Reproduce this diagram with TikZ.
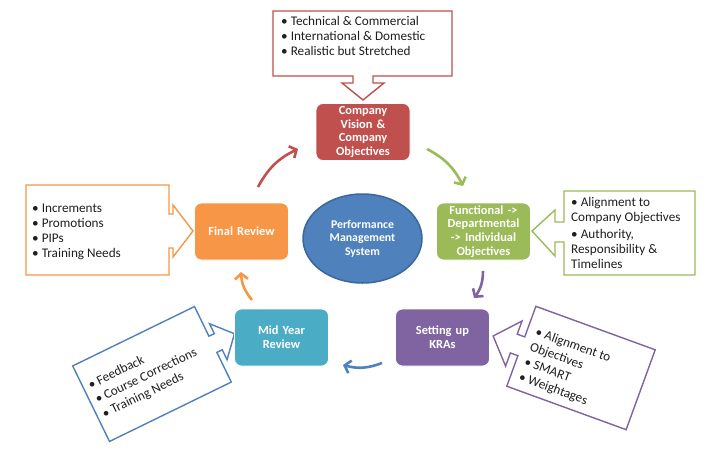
\documentclass[tikz,border=0pt]{standalone}
\usepackage{fontspec}
\setmainfont{Carlito}
\usetikzlibrary{arrows.meta,shapes.geometric}
\definecolor{cred}{HTML}{C0504D}
\definecolor{cgreen}{HTML}{9BBB59}
\definecolor{cpurple}{HTML}{8064A2}
\definecolor{caqua}{HTML}{4BACC6}
\definecolor{corange}{HTML}{F79646}
\definecolor{cblue}{HTML}{4F81BD}
\definecolor{cblueb}{HTML}{3A679C}
\definecolor{ctxt}{HTML}{1F1F1F}
\begin{document}
\begin{tikzpicture}[x=1pt,y=-1pt,
  proc/.style={rounded corners=7pt, draw=white, line width=0.8pt,
    minimum width=94pt, minimum height=57pt, text width=90pt, align=center,
    inner sep=0pt, text=white, font=\bfseries\fontsize{12.4}{13.7}\selectfont},
  callout/.style={line width=1.4pt, fill=white, line join=miter},
  ctext/.style={inner sep=0pt, align=left, text=ctxt, anchor=base west,
    font=\fontsize{13.2}{15}\selectfont},
  cyc/.style={line width=2.6pt, -{Straight Barb[length=5.5pt,width=13pt]}, bend left=18}
]
\useasboundingbox[fill=white] (0,0) rectangle (720,450);

% callouts
\draw[callout, draw=cred] (273,11) -- (452,11) -- (452,76) -- (373,76) -- (373,83) -- (384,83)
  -- (363,100) -- (342,83) -- (353,83) -- (353,76) -- (273,76) -- cycle;
\node[ctext] (t1) at (281,55.5) {• Technical \& Commercial\\• International \& Domestic\\• Realistic but Stretched};

\draw[callout, draw=corange] (26,185) -- (169,185) -- (169,214) -- (173,214) -- (173,205)
  -- (193,231) -- (173,257) -- (173,248) -- (169,248) -- (169,275) -- (26,275) -- cycle;
\node[ctext] (t2) at (32,257) {• Increments\\• Promotions\\• PIPs\\• Training Needs};

\draw[callout, draw=cgreen] (564,191) -- (695,191) -- (695,275) -- (564,275) -- (564,242)
  -- (555,242) -- (555,256) -- (532,231) -- (555,210) -- (555,222) -- (564,222) -- cycle;
\node[ctext] (t3) at (571,268) {• Alignment to\\Company Objectives\\[1.5pt]• Authority,\\Responsibility \&\\Timelines};

\begin{scope}[shift={(581,368)}, rotate=-20]
  \draw[callout, draw=cpurple] (-63.5,-42.5) -- (63.5,-42.5) -- (63.5,42.5) -- (-63.5,42.5)
    -- (-63.5,10) -- (-71.5,10) -- (-71.5,24) -- (-93.5,0) -- (-71.5,-24) -- (-71.5,-10)
    -- (-63.5,-10) -- cycle;
  \node[ctext, transform shape, font=\fontsize{13.2}{16}\selectfont] (t4) at (-55,33)
    {• Alignment to\\Objectives\\• SMART\\• Weightages};
\end{scope}

\begin{scope}[shift={(152,374)}, rotate=26]
  \draw[callout, draw=cblue] (-67.75,-42) -- (67.75,-42) -- (67.75,-9) -- (73.75,-9)
    -- (73.75,-20) -- (91.75,0) -- (73.75,20) -- (73.75,9) -- (67.75,9) -- (67.75,42)
    -- (-67.75,42) -- cycle;
  \node[ctext, transform shape, font=\fontsize{13.2}{16}\selectfont] (t5) at (-62,19)
    {• Feedback\\• Course Corrections\\• Training Needs};
\end{scope}

% process nodes
\node[proc, fill=cred] (cv) at (363,132) {Company\\Vision \&\\Company\\Objectives};
\node[proc, fill=cgreen] (fd) at (483.5,231.5) {Functional ->\\Departmental\\-> Individual\\Objectives};
\node[proc, fill=cpurple] (kra) at (442.5,337.5) {Setting up\\KRAs};
\node[proc, fill=caqua] (my) at (281.5,337.5) {Mid Year\\Review};
\node[proc, fill=corange] (fr) at (241.5,231.5) {Final Review};
\node[ellipse, fill=cblue, draw=cblueb, line width=1.5pt, minimum width=119pt,
  minimum height=89pt, inner sep=0pt, align=center, text=white,
  font=\bfseries\fontsize{11.8}{13.6}\selectfont] (pms) at (362.5,238.5)
  {Performance\\Management\\System};

% cycle arrows
\coordinate (r1) at (258,187); \coordinate (r2) at (298,149);
\coordinate (g1) at (427,149); \coordinate (g2) at (463,186);
\coordinate (p1) at (483,271); \coordinate (p2) at (474,298);
\coordinate (b1) at (382,363); \coordinate (b2) at (343,365);
\coordinate (o1) at (252,300); \coordinate (o2) at (241,272);
\draw[cyc, cred] (r1) to (r2);
\draw[cyc, cgreen] (g1) to (g2);
\draw[cyc, cpurple] (p1) to (p2);
\draw[cyc, cblue] (b1) to (b2);
\draw[cyc, corange] (o1) to (o2);
\end{tikzpicture}
\end{document}
